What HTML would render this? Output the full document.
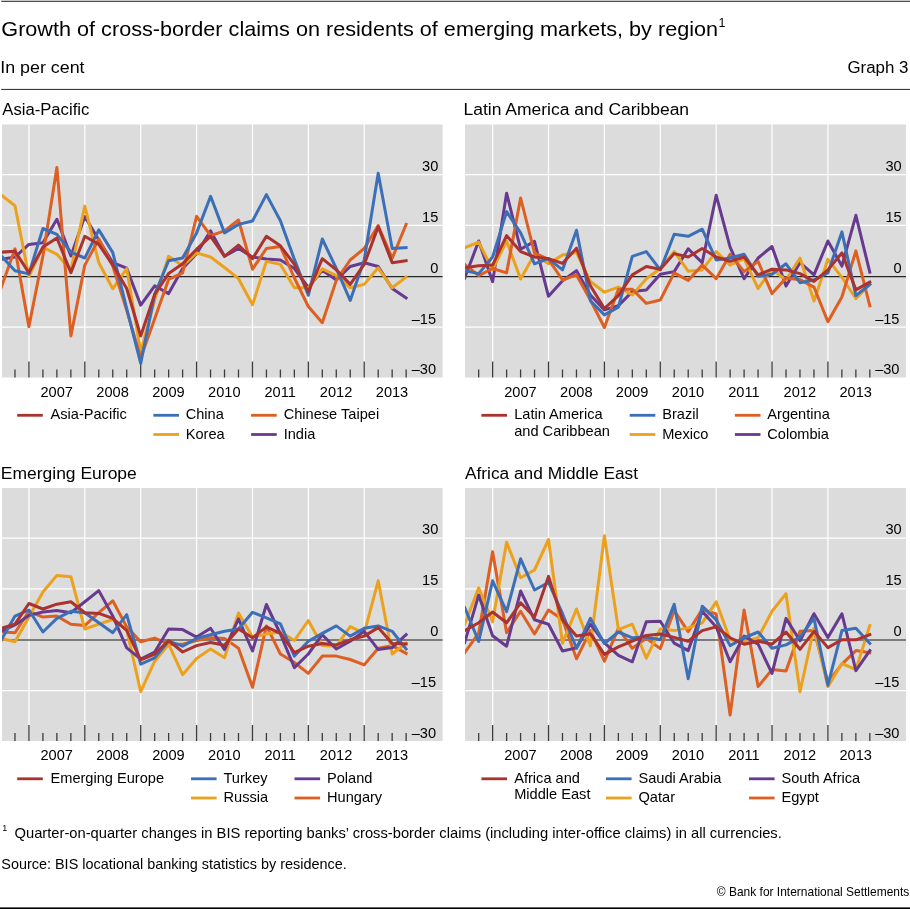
<!DOCTYPE html>
<html><head><meta charset="utf-8"><title>Graph 3</title>
<style>html,body{margin:0;padding:0;background:#fff}svg{display:block;will-change:transform}text{font-family:"Liberation Sans",sans-serif;fill:#000}</style>
</head><body>
<svg width="910" height="909" viewBox="0 0 910 909">
<rect x="0" y="0" width="910" height="909" fill="#fff"/>
<rect x="1.2" y="0" width="908.8" height="1" fill="#c8c8c8"/>
<rect x="1.2" y="1" width="908.8" height="0.9" fill="#3a3a3a"/>
<rect x="1.2" y="88.9" width="908.8" height="1.1" fill="#3a3a3a"/>
<rect x="0" y="907.4" width="910" height="1.6" fill="#000"/>
<text x="1.3" y="36.0" font-size="20.8" textLength="716.8" lengthAdjust="spacingAndGlyphs" fill="#1c1c1c">Growth of cross-border claims on residents of emerging markets, by region</text>
<text x="718.6" y="27.2" font-size="12.5" fill="#1c1c1c">1</text>
<text x="0.2" y="72.6" font-size="16" textLength="84.4" lengthAdjust="spacingAndGlyphs" fill="#1c1c1c">In per cent</text>
<text x="908.4" y="72.6" font-size="16" text-anchor="end" textLength="61.0" lengthAdjust="spacingAndGlyphs" fill="#1c1c1c">Graph 3</text>
<g>
<text x="2.3" y="115.0" font-size="16" textLength="87.0" lengthAdjust="spacingAndGlyphs" fill="#1c1c1c">Asia-Pacific</text>
<rect x="2.0" y="124.5" width="440.6" height="253.0" fill="#DCDCDC"/>
<line x1="28.94" y1="124.5" x2="28.94" y2="377.5" stroke="#fff" stroke-width="1.25"/>
<line x1="84.82" y1="124.5" x2="84.82" y2="377.5" stroke="#fff" stroke-width="1.25"/>
<line x1="140.70" y1="124.5" x2="140.70" y2="377.5" stroke="#fff" stroke-width="1.25"/>
<line x1="196.58" y1="124.5" x2="196.58" y2="377.5" stroke="#fff" stroke-width="1.25"/>
<line x1="252.46" y1="124.5" x2="252.46" y2="377.5" stroke="#fff" stroke-width="1.25"/>
<line x1="308.34" y1="124.5" x2="308.34" y2="377.5" stroke="#fff" stroke-width="1.25"/>
<line x1="364.22" y1="124.5" x2="364.22" y2="377.5" stroke="#fff" stroke-width="1.25"/>
<line x1="2.0" y1="174.60" x2="442.6" y2="174.60" stroke="#fff" stroke-width="1.25"/>
<line x1="2.0" y1="225.45" x2="442.6" y2="225.45" stroke="#fff" stroke-width="1.25"/>
<line x1="2.0" y1="327.15" x2="442.6" y2="327.15" stroke="#fff" stroke-width="1.25"/>
<line x1="2.0" y1="276.60" x2="442.6" y2="276.60" stroke="#262626" stroke-width="1.1"/>
<line x1="14.97" y1="369.5" x2="14.97" y2="377.5" stroke="#3c3c3c" stroke-width="1.3"/>
<line x1="28.94" y1="361.5" x2="28.94" y2="377.5" stroke="#3c3c3c" stroke-width="1.3"/>
<line x1="42.91" y1="369.5" x2="42.91" y2="377.5" stroke="#3c3c3c" stroke-width="1.3"/>
<line x1="56.88" y1="369.5" x2="56.88" y2="377.5" stroke="#3c3c3c" stroke-width="1.3"/>
<line x1="70.85" y1="369.5" x2="70.85" y2="377.5" stroke="#3c3c3c" stroke-width="1.3"/>
<line x1="84.82" y1="361.5" x2="84.82" y2="377.5" stroke="#3c3c3c" stroke-width="1.3"/>
<line x1="98.79" y1="369.5" x2="98.79" y2="377.5" stroke="#3c3c3c" stroke-width="1.3"/>
<line x1="112.76" y1="369.5" x2="112.76" y2="377.5" stroke="#3c3c3c" stroke-width="1.3"/>
<line x1="126.73" y1="369.5" x2="126.73" y2="377.5" stroke="#3c3c3c" stroke-width="1.3"/>
<line x1="140.70" y1="361.5" x2="140.70" y2="377.5" stroke="#3c3c3c" stroke-width="1.3"/>
<line x1="154.67" y1="369.5" x2="154.67" y2="377.5" stroke="#3c3c3c" stroke-width="1.3"/>
<line x1="168.64" y1="369.5" x2="168.64" y2="377.5" stroke="#3c3c3c" stroke-width="1.3"/>
<line x1="182.61" y1="369.5" x2="182.61" y2="377.5" stroke="#3c3c3c" stroke-width="1.3"/>
<line x1="196.58" y1="361.5" x2="196.58" y2="377.5" stroke="#3c3c3c" stroke-width="1.3"/>
<line x1="210.55" y1="369.5" x2="210.55" y2="377.5" stroke="#3c3c3c" stroke-width="1.3"/>
<line x1="224.52" y1="369.5" x2="224.52" y2="377.5" stroke="#3c3c3c" stroke-width="1.3"/>
<line x1="238.49" y1="369.5" x2="238.49" y2="377.5" stroke="#3c3c3c" stroke-width="1.3"/>
<line x1="252.46" y1="361.5" x2="252.46" y2="377.5" stroke="#3c3c3c" stroke-width="1.3"/>
<line x1="266.43" y1="369.5" x2="266.43" y2="377.5" stroke="#3c3c3c" stroke-width="1.3"/>
<line x1="280.40" y1="369.5" x2="280.40" y2="377.5" stroke="#3c3c3c" stroke-width="1.3"/>
<line x1="294.37" y1="369.5" x2="294.37" y2="377.5" stroke="#3c3c3c" stroke-width="1.3"/>
<line x1="308.34" y1="361.5" x2="308.34" y2="377.5" stroke="#3c3c3c" stroke-width="1.3"/>
<line x1="322.31" y1="369.5" x2="322.31" y2="377.5" stroke="#3c3c3c" stroke-width="1.3"/>
<line x1="336.28" y1="369.5" x2="336.28" y2="377.5" stroke="#3c3c3c" stroke-width="1.3"/>
<line x1="350.25" y1="369.5" x2="350.25" y2="377.5" stroke="#3c3c3c" stroke-width="1.3"/>
<line x1="364.22" y1="361.5" x2="364.22" y2="377.5" stroke="#3c3c3c" stroke-width="1.3"/>
<line x1="378.19" y1="369.5" x2="378.19" y2="377.5" stroke="#3c3c3c" stroke-width="1.3"/>
<line x1="392.16" y1="369.5" x2="392.16" y2="377.5" stroke="#3c3c3c" stroke-width="1.3"/>
<line x1="406.13" y1="369.5" x2="406.13" y2="377.5" stroke="#3c3c3c" stroke-width="1.3"/>
<clipPath id="cp0"><rect x="2.0" y="124.5" width="440.6" height="253.0"/></clipPath>
<g clip-path="url(#cp0)" fill="none" stroke-width="3.0" stroke-linejoin="round" stroke-linecap="square">
<polyline points="1.0,259.4 15.0,257.0 28.9,244.4 42.9,242.7 56.9,219.3 70.9,256.0 84.8,216.6 98.8,240.0 112.8,262.7 126.7,268.2 140.7,305.1 154.7,285.8 168.6,293.6 182.6,268.5 196.6,253.6 210.6,230.9 224.5,256.3 238.5,248.5 252.5,257.0 266.4,259.0 280.4,260.0 294.4,268.5 308.3,287.5 322.3,270.2 336.3,280.0 350.2,266.5 364.2,262.7 378.2,266.5 392.2,288.5 406.1,298.0" stroke="#683A8F"/>
<polyline points="1.0,194.9 15.0,205.8 28.9,276.6 42.9,247.1 56.9,254.3 70.9,269.9 84.8,206.1 98.8,262.7 112.8,288.8 126.7,268.5 140.7,351.6 154.7,300.0 168.6,256.3 182.6,265.8 196.6,252.9 210.6,257.0 224.5,267.5 238.5,278.7 252.5,304.8 266.4,261.4 280.4,264.4 294.4,287.8 308.3,287.8 322.3,268.8 336.3,275.6 350.2,287.8 364.2,284.4 378.2,267.8 392.2,287.8 406.1,277.0" stroke="#ECA11D"/>
<polyline points="1.0,288.2 15.0,248.8 28.9,326.8 42.9,256.0 56.9,167.5 70.9,336.0 84.8,265.1 98.8,239.0 112.8,266.1 126.7,310.2 140.7,357.7 154.7,318.7 168.6,279.4 182.6,272.9 196.6,216.3 210.6,235.6 224.5,230.9 238.5,220.0 252.5,269.2 266.4,248.5 280.4,246.5 294.4,278.0 308.3,306.5 322.3,322.7 336.3,280.4 350.2,260.0 364.2,248.5 378.2,225.5 392.2,258.3 406.1,224.4" stroke="#DD5F22"/>
<polyline points="1.0,255.6 15.0,270.7 28.9,273.9 42.9,228.5 56.9,234.3 70.9,252.2 84.8,258.0 98.8,229.9 112.8,252.6 126.7,308.5 140.7,363.4 154.7,294.3 168.6,260.7 182.6,258.0 196.6,232.9 210.6,196.3 224.5,232.9 238.5,224.4 252.5,221.0 266.4,194.6 280.4,220.7 294.4,259.4 308.3,295.3 322.3,239.0 336.3,268.5 350.2,300.4 364.2,260.0 378.2,173.2 392.2,248.5 406.1,247.5" stroke="#3B70B8"/>
<polyline points="1.0,252.2 15.0,251.2 28.9,272.9 42.9,247.1 56.9,238.0 70.9,272.6 84.8,236.3 98.8,244.4 112.8,265.1 126.7,288.5 140.7,336.0 154.7,294.3 168.6,273.6 182.6,263.8 196.6,249.2 210.6,236.3 224.5,256.3 238.5,245.1 252.5,258.7 266.4,236.3 280.4,245.8 294.4,264.4 308.3,291.9 322.3,258.7 336.3,269.9 350.2,284.4 364.2,264.4 378.2,226.8 392.2,262.7 406.1,260.7" stroke="#AA322F"/>
</g>
<text x="438.3" y="170.9" font-size="14.6" text-anchor="end">30</text>
<text x="438.3" y="221.8" font-size="14.6" text-anchor="end">15</text>
<text x="438.3" y="272.6" font-size="14.6" text-anchor="end">0</text>
<text x="436.1" y="323.5" font-size="14.6" text-anchor="end">–15</text>
<text x="436.1" y="374.3" font-size="14.6" text-anchor="end">–30</text>
<text x="56.7" y="396.6" font-size="14.6" text-anchor="middle">2007</text>
<text x="112.6" y="396.6" font-size="14.6" text-anchor="middle">2008</text>
<text x="168.4" y="396.6" font-size="14.6" text-anchor="middle">2009</text>
<text x="224.3" y="396.6" font-size="14.6" text-anchor="middle">2010</text>
<text x="280.2" y="396.6" font-size="14.6" text-anchor="middle">2011</text>
<text x="336.1" y="396.6" font-size="14.6" text-anchor="middle">2012</text>
<text x="392.0" y="396.6" font-size="14.6" text-anchor="middle">2013</text>
<line x1="17.2" y1="415.3" x2="42.8" y2="415.3" stroke="#AA322F" stroke-width="2.8"/>
<text x="50.5" y="419.3" font-size="14.6">Asia-Pacific</text>
<line x1="153.4" y1="415.3" x2="179.0" y2="415.3" stroke="#3B70B8" stroke-width="2.8"/>
<text x="185.7" y="419.3" font-size="14.6">China</text>
<line x1="251.1" y1="415.3" x2="276.7" y2="415.3" stroke="#DD5F22" stroke-width="2.8"/>
<text x="283.7" y="419.3" font-size="14.6">Chinese Taipei</text>
<line x1="153.4" y1="434.5" x2="179.0" y2="434.5" stroke="#ECA11D" stroke-width="2.8"/>
<text x="185.7" y="438.5" font-size="14.6">Korea</text>
<line x1="251.1" y1="434.5" x2="276.7" y2="434.5" stroke="#683A8F" stroke-width="2.8"/>
<text x="283.7" y="438.5" font-size="14.6">India</text>
</g>
<g>
<text x="463.5" y="115.0" font-size="16" textLength="225.6" lengthAdjust="spacingAndGlyphs" fill="#1c1c1c">Latin America and Caribbean</text>
<rect x="465.0" y="124.5" width="441.0" height="253.0" fill="#DCDCDC"/>
<line x1="492.64" y1="124.5" x2="492.64" y2="377.5" stroke="#fff" stroke-width="1.25"/>
<line x1="548.52" y1="124.5" x2="548.52" y2="377.5" stroke="#fff" stroke-width="1.25"/>
<line x1="604.40" y1="124.5" x2="604.40" y2="377.5" stroke="#fff" stroke-width="1.25"/>
<line x1="660.28" y1="124.5" x2="660.28" y2="377.5" stroke="#fff" stroke-width="1.25"/>
<line x1="716.16" y1="124.5" x2="716.16" y2="377.5" stroke="#fff" stroke-width="1.25"/>
<line x1="772.04" y1="124.5" x2="772.04" y2="377.5" stroke="#fff" stroke-width="1.25"/>
<line x1="827.92" y1="124.5" x2="827.92" y2="377.5" stroke="#fff" stroke-width="1.25"/>
<line x1="465.0" y1="174.60" x2="906.0" y2="174.60" stroke="#fff" stroke-width="1.25"/>
<line x1="465.0" y1="225.45" x2="906.0" y2="225.45" stroke="#fff" stroke-width="1.25"/>
<line x1="465.0" y1="327.15" x2="906.0" y2="327.15" stroke="#fff" stroke-width="1.25"/>
<line x1="465.0" y1="276.60" x2="906.0" y2="276.60" stroke="#262626" stroke-width="1.1"/>
<line x1="478.67" y1="369.5" x2="478.67" y2="377.5" stroke="#3c3c3c" stroke-width="1.3"/>
<line x1="492.64" y1="361.5" x2="492.64" y2="377.5" stroke="#3c3c3c" stroke-width="1.3"/>
<line x1="506.61" y1="369.5" x2="506.61" y2="377.5" stroke="#3c3c3c" stroke-width="1.3"/>
<line x1="520.58" y1="369.5" x2="520.58" y2="377.5" stroke="#3c3c3c" stroke-width="1.3"/>
<line x1="534.55" y1="369.5" x2="534.55" y2="377.5" stroke="#3c3c3c" stroke-width="1.3"/>
<line x1="548.52" y1="361.5" x2="548.52" y2="377.5" stroke="#3c3c3c" stroke-width="1.3"/>
<line x1="562.49" y1="369.5" x2="562.49" y2="377.5" stroke="#3c3c3c" stroke-width="1.3"/>
<line x1="576.46" y1="369.5" x2="576.46" y2="377.5" stroke="#3c3c3c" stroke-width="1.3"/>
<line x1="590.43" y1="369.5" x2="590.43" y2="377.5" stroke="#3c3c3c" stroke-width="1.3"/>
<line x1="604.40" y1="361.5" x2="604.40" y2="377.5" stroke="#3c3c3c" stroke-width="1.3"/>
<line x1="618.37" y1="369.5" x2="618.37" y2="377.5" stroke="#3c3c3c" stroke-width="1.3"/>
<line x1="632.34" y1="369.5" x2="632.34" y2="377.5" stroke="#3c3c3c" stroke-width="1.3"/>
<line x1="646.31" y1="369.5" x2="646.31" y2="377.5" stroke="#3c3c3c" stroke-width="1.3"/>
<line x1="660.28" y1="361.5" x2="660.28" y2="377.5" stroke="#3c3c3c" stroke-width="1.3"/>
<line x1="674.25" y1="369.5" x2="674.25" y2="377.5" stroke="#3c3c3c" stroke-width="1.3"/>
<line x1="688.22" y1="369.5" x2="688.22" y2="377.5" stroke="#3c3c3c" stroke-width="1.3"/>
<line x1="702.19" y1="369.5" x2="702.19" y2="377.5" stroke="#3c3c3c" stroke-width="1.3"/>
<line x1="716.16" y1="361.5" x2="716.16" y2="377.5" stroke="#3c3c3c" stroke-width="1.3"/>
<line x1="730.13" y1="369.5" x2="730.13" y2="377.5" stroke="#3c3c3c" stroke-width="1.3"/>
<line x1="744.10" y1="369.5" x2="744.10" y2="377.5" stroke="#3c3c3c" stroke-width="1.3"/>
<line x1="758.07" y1="369.5" x2="758.07" y2="377.5" stroke="#3c3c3c" stroke-width="1.3"/>
<line x1="772.04" y1="361.5" x2="772.04" y2="377.5" stroke="#3c3c3c" stroke-width="1.3"/>
<line x1="786.01" y1="369.5" x2="786.01" y2="377.5" stroke="#3c3c3c" stroke-width="1.3"/>
<line x1="799.98" y1="369.5" x2="799.98" y2="377.5" stroke="#3c3c3c" stroke-width="1.3"/>
<line x1="813.95" y1="369.5" x2="813.95" y2="377.5" stroke="#3c3c3c" stroke-width="1.3"/>
<line x1="827.92" y1="361.5" x2="827.92" y2="377.5" stroke="#3c3c3c" stroke-width="1.3"/>
<line x1="841.89" y1="369.5" x2="841.89" y2="377.5" stroke="#3c3c3c" stroke-width="1.3"/>
<line x1="855.86" y1="369.5" x2="855.86" y2="377.5" stroke="#3c3c3c" stroke-width="1.3"/>
<line x1="869.83" y1="369.5" x2="869.83" y2="377.5" stroke="#3c3c3c" stroke-width="1.3"/>
<clipPath id="cp1"><rect x="465.0" y="124.5" width="441.0" height="253.0"/></clipPath>
<g clip-path="url(#cp1)" fill="none" stroke-width="3.0" stroke-linejoin="round" stroke-linecap="square">
<polyline points="464.7,278.0 478.7,241.0 492.6,281.7 506.6,193.2 520.6,249.2 534.5,241.4 548.5,296.3 562.5,280.7 576.5,270.7 590.4,294.9 604.4,309.9 618.4,305.8 632.3,291.6 646.3,289.9 660.3,274.3 674.2,271.6 688.2,248.8 702.2,262.7 716.2,195.3 730.1,247.1 744.1,278.7 758.1,258.0 772.0,246.5 786.0,286.1 800.0,262.7 814.0,274.9 827.9,241.0 841.9,266.1 855.9,215.3 869.8,272.2" stroke="#683A8F"/>
<polyline points="464.7,247.8 478.7,242.1 492.6,269.7 506.6,241.0 520.6,279.0 534.5,254.3 548.5,263.8 562.5,254.9 576.5,252.6 590.4,281.4 604.4,292.2 618.4,287.1 632.3,294.9 646.3,278.7 660.3,268.5 674.2,251.6 688.2,271.2 702.2,269.9 716.2,251.6 730.1,265.1 744.1,258.7 758.1,288.5 772.0,269.2 786.0,280.0 800.0,258.0 814.0,301.0 827.9,259.4 841.9,277.3 855.9,298.7 869.8,284.4" stroke="#ECA11D"/>
<polyline points="464.7,264.4 478.7,275.6 492.6,268.5 506.6,272.9 520.6,198.0 534.5,252.9 548.5,259.4 562.5,280.0 576.5,274.9 590.4,300.0 604.4,327.5 618.4,289.2 632.3,289.2 646.3,303.4 660.3,300.0 674.2,272.9 688.2,280.4 702.2,265.1 716.2,278.7 730.1,254.3 744.1,271.6 758.1,261.4 772.0,293.6 786.0,278.0 800.0,279.7 814.0,287.1 827.9,321.7 841.9,297.0 855.9,250.9 869.8,305.8" stroke="#DD5F22"/>
<polyline points="464.7,270.7 478.7,273.6 492.6,257.0 506.6,211.6 520.6,232.9 534.5,263.8 548.5,258.7 562.5,269.9 576.5,230.2 590.4,300.7 604.4,314.9 618.4,307.1 632.3,256.3 646.3,251.6 660.3,269.9 674.2,234.3 688.2,236.3 702.2,229.2 716.2,260.0 730.1,258.0 744.1,254.3 758.1,276.3 772.0,274.3 786.0,263.8 800.0,282.7 814.0,280.0 827.9,272.9 841.9,231.9 855.9,295.6 869.8,284.4" stroke="#3B70B8"/>
<polyline points="464.7,267.8 478.7,265.8 492.6,265.1 506.6,235.6 520.6,251.6 534.5,257.0 548.5,258.7 562.5,263.4 576.5,248.2 590.4,285.8 604.4,308.5 618.4,295.6 632.3,274.9 646.3,266.5 660.3,269.2 674.2,253.6 688.2,257.0 702.2,248.5 716.2,257.0 730.1,261.4 744.1,257.0 758.1,274.9 772.0,269.2 786.0,269.9 800.0,273.6 814.0,281.4 827.9,269.9 841.9,252.9 855.9,289.9 869.8,282.1" stroke="#AA322F"/>
</g>
<text x="901.7" y="170.9" font-size="14.6" text-anchor="end">30</text>
<text x="901.7" y="221.8" font-size="14.6" text-anchor="end">15</text>
<text x="901.7" y="272.6" font-size="14.6" text-anchor="end">0</text>
<text x="899.5" y="323.5" font-size="14.6" text-anchor="end">–15</text>
<text x="899.5" y="374.3" font-size="14.6" text-anchor="end">–30</text>
<text x="520.4" y="396.6" font-size="14.6" text-anchor="middle">2007</text>
<text x="576.3" y="396.6" font-size="14.6" text-anchor="middle">2008</text>
<text x="632.1" y="396.6" font-size="14.6" text-anchor="middle">2009</text>
<text x="688.0" y="396.6" font-size="14.6" text-anchor="middle">2010</text>
<text x="743.9" y="396.6" font-size="14.6" text-anchor="middle">2011</text>
<text x="799.8" y="396.6" font-size="14.6" text-anchor="middle">2012</text>
<text x="855.7" y="396.6" font-size="14.6" text-anchor="middle">2013</text>
<line x1="481.4" y1="415.3" x2="507.0" y2="415.3" stroke="#AA322F" stroke-width="2.8"/>
<text x="514.2" y="419.3" font-size="14.6">Latin America</text>
<text x="514.2" y="435.7" font-size="14.6">and Caribbean</text>
<line x1="629.7" y1="415.3" x2="655.3" y2="415.3" stroke="#3B70B8" stroke-width="2.8"/>
<text x="662.2" y="419.3" font-size="14.6">Brazil</text>
<line x1="734.9" y1="415.3" x2="760.5" y2="415.3" stroke="#DD5F22" stroke-width="2.8"/>
<text x="767.3" y="419.3" font-size="14.6">Argentina</text>
<line x1="629.7" y1="434.5" x2="655.3" y2="434.5" stroke="#ECA11D" stroke-width="2.8"/>
<text x="662.2" y="438.5" font-size="14.6">Mexico</text>
<line x1="734.9" y1="434.5" x2="760.5" y2="434.5" stroke="#683A8F" stroke-width="2.8"/>
<text x="767.3" y="438.5" font-size="14.6">Colombia</text>
</g>
<g>
<text x="0.8" y="478.5" font-size="16" textLength="136.0" lengthAdjust="spacingAndGlyphs" fill="#1c1c1c">Emerging Europe</text>
<rect x="2.0" y="488.0" width="440.6" height="253.0" fill="#DCDCDC"/>
<line x1="28.94" y1="488.0" x2="28.94" y2="741.0" stroke="#fff" stroke-width="1.25"/>
<line x1="84.82" y1="488.0" x2="84.82" y2="741.0" stroke="#fff" stroke-width="1.25"/>
<line x1="140.70" y1="488.0" x2="140.70" y2="741.0" stroke="#fff" stroke-width="1.25"/>
<line x1="196.58" y1="488.0" x2="196.58" y2="741.0" stroke="#fff" stroke-width="1.25"/>
<line x1="252.46" y1="488.0" x2="252.46" y2="741.0" stroke="#fff" stroke-width="1.25"/>
<line x1="308.34" y1="488.0" x2="308.34" y2="741.0" stroke="#fff" stroke-width="1.25"/>
<line x1="364.22" y1="488.0" x2="364.22" y2="741.0" stroke="#fff" stroke-width="1.25"/>
<line x1="2.0" y1="538.10" x2="442.6" y2="538.10" stroke="#fff" stroke-width="1.25"/>
<line x1="2.0" y1="588.95" x2="442.6" y2="588.95" stroke="#fff" stroke-width="1.25"/>
<line x1="2.0" y1="690.65" x2="442.6" y2="690.65" stroke="#fff" stroke-width="1.25"/>
<line x1="2.0" y1="640.00" x2="442.6" y2="640.00" stroke="#5c5c5c" stroke-width="1.5"/>
<line x1="14.97" y1="733.0" x2="14.97" y2="741.0" stroke="#3c3c3c" stroke-width="1.3"/>
<line x1="28.94" y1="725.0" x2="28.94" y2="741.0" stroke="#3c3c3c" stroke-width="1.3"/>
<line x1="42.91" y1="733.0" x2="42.91" y2="741.0" stroke="#3c3c3c" stroke-width="1.3"/>
<line x1="56.88" y1="733.0" x2="56.88" y2="741.0" stroke="#3c3c3c" stroke-width="1.3"/>
<line x1="70.85" y1="733.0" x2="70.85" y2="741.0" stroke="#3c3c3c" stroke-width="1.3"/>
<line x1="84.82" y1="725.0" x2="84.82" y2="741.0" stroke="#3c3c3c" stroke-width="1.3"/>
<line x1="98.79" y1="733.0" x2="98.79" y2="741.0" stroke="#3c3c3c" stroke-width="1.3"/>
<line x1="112.76" y1="733.0" x2="112.76" y2="741.0" stroke="#3c3c3c" stroke-width="1.3"/>
<line x1="126.73" y1="733.0" x2="126.73" y2="741.0" stroke="#3c3c3c" stroke-width="1.3"/>
<line x1="140.70" y1="725.0" x2="140.70" y2="741.0" stroke="#3c3c3c" stroke-width="1.3"/>
<line x1="154.67" y1="733.0" x2="154.67" y2="741.0" stroke="#3c3c3c" stroke-width="1.3"/>
<line x1="168.64" y1="733.0" x2="168.64" y2="741.0" stroke="#3c3c3c" stroke-width="1.3"/>
<line x1="182.61" y1="733.0" x2="182.61" y2="741.0" stroke="#3c3c3c" stroke-width="1.3"/>
<line x1="196.58" y1="725.0" x2="196.58" y2="741.0" stroke="#3c3c3c" stroke-width="1.3"/>
<line x1="210.55" y1="733.0" x2="210.55" y2="741.0" stroke="#3c3c3c" stroke-width="1.3"/>
<line x1="224.52" y1="733.0" x2="224.52" y2="741.0" stroke="#3c3c3c" stroke-width="1.3"/>
<line x1="238.49" y1="733.0" x2="238.49" y2="741.0" stroke="#3c3c3c" stroke-width="1.3"/>
<line x1="252.46" y1="725.0" x2="252.46" y2="741.0" stroke="#3c3c3c" stroke-width="1.3"/>
<line x1="266.43" y1="733.0" x2="266.43" y2="741.0" stroke="#3c3c3c" stroke-width="1.3"/>
<line x1="280.40" y1="733.0" x2="280.40" y2="741.0" stroke="#3c3c3c" stroke-width="1.3"/>
<line x1="294.37" y1="733.0" x2="294.37" y2="741.0" stroke="#3c3c3c" stroke-width="1.3"/>
<line x1="308.34" y1="725.0" x2="308.34" y2="741.0" stroke="#3c3c3c" stroke-width="1.3"/>
<line x1="322.31" y1="733.0" x2="322.31" y2="741.0" stroke="#3c3c3c" stroke-width="1.3"/>
<line x1="336.28" y1="733.0" x2="336.28" y2="741.0" stroke="#3c3c3c" stroke-width="1.3"/>
<line x1="350.25" y1="733.0" x2="350.25" y2="741.0" stroke="#3c3c3c" stroke-width="1.3"/>
<line x1="364.22" y1="725.0" x2="364.22" y2="741.0" stroke="#3c3c3c" stroke-width="1.3"/>
<line x1="378.19" y1="733.0" x2="378.19" y2="741.0" stroke="#3c3c3c" stroke-width="1.3"/>
<line x1="392.16" y1="733.0" x2="392.16" y2="741.0" stroke="#3c3c3c" stroke-width="1.3"/>
<line x1="406.13" y1="733.0" x2="406.13" y2="741.0" stroke="#3c3c3c" stroke-width="1.3"/>
<clipPath id="cp2"><rect x="2.0" y="488.0" width="440.6" height="253.0"/></clipPath>
<g clip-path="url(#cp2)" fill="none" stroke-width="3.0" stroke-linejoin="round" stroke-linecap="square">
<polyline points="1.0,632.0 15.0,632.7 28.9,611.3 42.9,617.1 56.9,616.1 70.9,624.2 84.8,625.6 98.8,612.7 112.8,600.8 126.7,626.9 140.7,641.8 154.7,638.1 168.6,644.2 182.6,644.2 196.6,640.5 210.6,637.8 224.5,638.4 238.5,648.3 252.5,687.3 266.4,625.9 280.4,654.0 294.4,662.5 308.3,673.4 322.3,656.1 336.3,656.1 350.2,659.5 364.2,664.9 378.2,648.3 392.2,645.6 406.1,653.4" stroke="#DD5F22"/>
<polyline points="1.0,638.4 15.0,641.8 28.9,617.1 42.9,592.0 56.9,575.4 70.9,576.7 84.8,629.0 98.8,624.2 112.8,619.5 126.7,630.0 140.7,691.7 154.7,661.2 168.6,644.2 182.6,674.7 196.6,658.4 210.6,649.0 224.5,657.8 238.5,613.0 252.5,637.1 266.4,634.0 280.4,632.0 294.4,640.5 308.3,620.5 322.3,645.6 336.3,646.2 350.2,626.6 364.2,633.4 378.2,580.8 392.2,654.0 406.1,643.2" stroke="#ECA11D"/>
<polyline points="1.0,631.3 15.0,624.9 28.9,615.4 42.9,612.0 56.9,610.6 70.9,612.7 84.8,601.8 98.8,590.6 112.8,616.1 126.7,647.9 140.7,659.1 154.7,652.0 168.6,629.0 182.6,629.6 196.6,637.1 210.6,628.3 224.5,649.6 238.5,618.8 252.5,651.0 266.4,604.5 280.4,634.0 294.4,667.6 308.3,654.0 322.3,634.7 336.3,649.0 350.2,641.2 364.2,631.3 378.2,649.6 392.2,647.6 406.1,634.7" stroke="#683A8F"/>
<polyline points="1.0,640.5 15.0,616.1 28.9,610.0 42.9,632.0 56.9,618.4 70.9,611.3 84.8,612.7 98.8,622.8 112.8,632.7 126.7,614.7 140.7,664.2 154.7,657.8 168.6,641.2 182.6,646.2 196.6,638.4 210.6,634.7 224.5,631.3 238.5,629.0 252.5,612.3 266.4,617.8 280.4,623.9 294.4,656.1 308.3,641.2 322.3,633.4 336.3,625.9 350.2,636.1 364.2,628.3 378.2,625.9 392.2,631.3 406.1,649.0" stroke="#3B70B8"/>
<polyline points="1.0,628.3 15.0,624.2 28.9,603.5 42.9,609.0 56.9,604.2 70.9,601.8 84.8,612.7 98.8,613.4 112.8,618.4 126.7,630.3 140.7,659.8 154.7,654.0 168.6,640.5 182.6,652.0 196.6,645.6 210.6,642.5 224.5,645.2 238.5,629.0 252.5,637.8 266.4,626.9 280.4,633.4 294.4,652.7 308.3,646.2 322.3,643.5 336.3,644.9 350.2,639.8 364.2,636.1 378.2,627.6 392.2,643.5 406.1,643.9" stroke="#AA322F"/>
</g>
<text x="438.3" y="534.2" font-size="14.6" text-anchor="end">30</text>
<text x="438.3" y="585.0" font-size="14.6" text-anchor="end">15</text>
<text x="438.3" y="635.9" font-size="14.6" text-anchor="end">0</text>
<text x="436.1" y="686.8" font-size="14.6" text-anchor="end">–15</text>
<text x="436.1" y="737.6" font-size="14.6" text-anchor="end">–30</text>
<text x="56.7" y="760.1" font-size="14.6" text-anchor="middle">2007</text>
<text x="112.6" y="760.1" font-size="14.6" text-anchor="middle">2008</text>
<text x="168.4" y="760.1" font-size="14.6" text-anchor="middle">2009</text>
<text x="224.3" y="760.1" font-size="14.6" text-anchor="middle">2010</text>
<text x="280.2" y="760.1" font-size="14.6" text-anchor="middle">2011</text>
<text x="336.1" y="760.1" font-size="14.6" text-anchor="middle">2012</text>
<text x="392.0" y="760.1" font-size="14.6" text-anchor="middle">2013</text>
<line x1="17.2" y1="778.8" x2="42.8" y2="778.8" stroke="#AA322F" stroke-width="2.8"/>
<text x="50.5" y="782.8" font-size="14.6">Emerging Europe</text>
<line x1="191.0" y1="778.8" x2="216.6" y2="778.8" stroke="#3B70B8" stroke-width="2.8"/>
<text x="223.5" y="782.8" font-size="14.6">Turkey</text>
<line x1="294.5" y1="778.8" x2="320.1" y2="778.8" stroke="#683A8F" stroke-width="2.8"/>
<text x="327.0" y="782.8" font-size="14.6">Poland</text>
<line x1="191.0" y1="798.0" x2="216.6" y2="798.0" stroke="#ECA11D" stroke-width="2.8"/>
<text x="223.5" y="802.0" font-size="14.6">Russia</text>
<line x1="294.5" y1="798.0" x2="320.1" y2="798.0" stroke="#DD5F22" stroke-width="2.8"/>
<text x="327.0" y="802.0" font-size="14.6">Hungary</text>
</g>
<g>
<text x="465.0" y="478.5" font-size="16" textLength="173.0" lengthAdjust="spacingAndGlyphs" fill="#1c1c1c">Africa and Middle East</text>
<rect x="465.0" y="488.0" width="441.0" height="253.0" fill="#DCDCDC"/>
<line x1="492.64" y1="488.0" x2="492.64" y2="741.0" stroke="#fff" stroke-width="1.25"/>
<line x1="548.52" y1="488.0" x2="548.52" y2="741.0" stroke="#fff" stroke-width="1.25"/>
<line x1="604.40" y1="488.0" x2="604.40" y2="741.0" stroke="#fff" stroke-width="1.25"/>
<line x1="660.28" y1="488.0" x2="660.28" y2="741.0" stroke="#fff" stroke-width="1.25"/>
<line x1="716.16" y1="488.0" x2="716.16" y2="741.0" stroke="#fff" stroke-width="1.25"/>
<line x1="772.04" y1="488.0" x2="772.04" y2="741.0" stroke="#fff" stroke-width="1.25"/>
<line x1="827.92" y1="488.0" x2="827.92" y2="741.0" stroke="#fff" stroke-width="1.25"/>
<line x1="465.0" y1="538.10" x2="906.0" y2="538.10" stroke="#fff" stroke-width="1.25"/>
<line x1="465.0" y1="588.95" x2="906.0" y2="588.95" stroke="#fff" stroke-width="1.25"/>
<line x1="465.0" y1="690.65" x2="906.0" y2="690.65" stroke="#fff" stroke-width="1.25"/>
<line x1="465.0" y1="640.00" x2="906.0" y2="640.00" stroke="#5c5c5c" stroke-width="1.5"/>
<line x1="478.67" y1="733.0" x2="478.67" y2="741.0" stroke="#3c3c3c" stroke-width="1.3"/>
<line x1="492.64" y1="725.0" x2="492.64" y2="741.0" stroke="#3c3c3c" stroke-width="1.3"/>
<line x1="506.61" y1="733.0" x2="506.61" y2="741.0" stroke="#3c3c3c" stroke-width="1.3"/>
<line x1="520.58" y1="733.0" x2="520.58" y2="741.0" stroke="#3c3c3c" stroke-width="1.3"/>
<line x1="534.55" y1="733.0" x2="534.55" y2="741.0" stroke="#3c3c3c" stroke-width="1.3"/>
<line x1="548.52" y1="725.0" x2="548.52" y2="741.0" stroke="#3c3c3c" stroke-width="1.3"/>
<line x1="562.49" y1="733.0" x2="562.49" y2="741.0" stroke="#3c3c3c" stroke-width="1.3"/>
<line x1="576.46" y1="733.0" x2="576.46" y2="741.0" stroke="#3c3c3c" stroke-width="1.3"/>
<line x1="590.43" y1="733.0" x2="590.43" y2="741.0" stroke="#3c3c3c" stroke-width="1.3"/>
<line x1="604.40" y1="725.0" x2="604.40" y2="741.0" stroke="#3c3c3c" stroke-width="1.3"/>
<line x1="618.37" y1="733.0" x2="618.37" y2="741.0" stroke="#3c3c3c" stroke-width="1.3"/>
<line x1="632.34" y1="733.0" x2="632.34" y2="741.0" stroke="#3c3c3c" stroke-width="1.3"/>
<line x1="646.31" y1="733.0" x2="646.31" y2="741.0" stroke="#3c3c3c" stroke-width="1.3"/>
<line x1="660.28" y1="725.0" x2="660.28" y2="741.0" stroke="#3c3c3c" stroke-width="1.3"/>
<line x1="674.25" y1="733.0" x2="674.25" y2="741.0" stroke="#3c3c3c" stroke-width="1.3"/>
<line x1="688.22" y1="733.0" x2="688.22" y2="741.0" stroke="#3c3c3c" stroke-width="1.3"/>
<line x1="702.19" y1="733.0" x2="702.19" y2="741.0" stroke="#3c3c3c" stroke-width="1.3"/>
<line x1="716.16" y1="725.0" x2="716.16" y2="741.0" stroke="#3c3c3c" stroke-width="1.3"/>
<line x1="730.13" y1="733.0" x2="730.13" y2="741.0" stroke="#3c3c3c" stroke-width="1.3"/>
<line x1="744.10" y1="733.0" x2="744.10" y2="741.0" stroke="#3c3c3c" stroke-width="1.3"/>
<line x1="758.07" y1="733.0" x2="758.07" y2="741.0" stroke="#3c3c3c" stroke-width="1.3"/>
<line x1="772.04" y1="725.0" x2="772.04" y2="741.0" stroke="#3c3c3c" stroke-width="1.3"/>
<line x1="786.01" y1="733.0" x2="786.01" y2="741.0" stroke="#3c3c3c" stroke-width="1.3"/>
<line x1="799.98" y1="733.0" x2="799.98" y2="741.0" stroke="#3c3c3c" stroke-width="1.3"/>
<line x1="813.95" y1="733.0" x2="813.95" y2="741.0" stroke="#3c3c3c" stroke-width="1.3"/>
<line x1="827.92" y1="725.0" x2="827.92" y2="741.0" stroke="#3c3c3c" stroke-width="1.3"/>
<line x1="841.89" y1="733.0" x2="841.89" y2="741.0" stroke="#3c3c3c" stroke-width="1.3"/>
<line x1="855.86" y1="733.0" x2="855.86" y2="741.0" stroke="#3c3c3c" stroke-width="1.3"/>
<line x1="869.83" y1="733.0" x2="869.83" y2="741.0" stroke="#3c3c3c" stroke-width="1.3"/>
<clipPath id="cp3"><rect x="465.0" y="488.0" width="441.0" height="253.0"/></clipPath>
<g clip-path="url(#cp3)" fill="none" stroke-width="3.0" stroke-linejoin="round" stroke-linecap="square">
<polyline points="464.7,652.7 478.7,633.0 492.6,551.7 506.6,632.7 520.6,611.3 534.5,634.0 548.5,610.0 562.5,619.5 576.5,658.8 590.4,630.6 604.4,661.2 618.4,628.3 632.3,648.3 646.3,638.4 660.3,648.6 674.2,610.6 688.2,631.7 702.2,609.3 716.2,614.0 730.1,715.1 744.1,610.0 758.1,686.6 772.0,669.6 786.0,671.0 800.0,631.3 814.0,630.6 827.9,682.2 841.9,664.2 855.9,650.6 869.8,652.7" stroke="#DD5F22"/>
<polyline points="464.7,624.2 478.7,587.9 492.6,621.8 506.6,542.2 520.6,577.8 534.5,570.0 548.5,539.5 562.5,643.2 576.5,609.0 590.4,645.9 604.4,535.7 618.4,629.6 632.3,624.2 646.3,658.1 660.3,629.0 674.2,630.6 688.2,627.9 702.2,622.8 716.2,601.8 730.1,639.8 744.1,641.8 758.1,637.8 772.0,611.3 786.0,593.7 800.0,691.7 814.0,627.9 827.9,686.6 841.9,663.5 855.9,669.6 869.8,625.6" stroke="#ECA11D"/>
<polyline points="464.7,642.5 478.7,595.1 492.6,635.7 506.6,646.2 520.6,591.0 534.5,619.8 548.5,624.2 562.5,651.0 576.5,647.9 590.4,624.2 604.4,642.9 618.4,655.4 632.3,661.8 646.3,621.8 660.3,621.2 674.2,643.2 688.2,650.6 702.2,611.3 716.2,626.9 730.1,661.8 744.1,636.1 758.1,644.2 772.0,673.4 786.0,618.4 800.0,640.8 814.0,613.7 827.9,637.4 841.9,613.7 855.9,670.6 869.8,650.6" stroke="#683A8F"/>
<polyline points="464.7,607.6 478.7,641.5 492.6,580.8 506.6,611.7 520.6,558.8 534.5,590.0 548.5,582.5 562.5,613.7 576.5,648.3 590.4,618.4 604.4,643.5 618.4,632.0 632.3,637.8 646.3,637.1 660.3,639.8 674.2,604.2 688.2,678.8 702.2,606.2 716.2,619.8 730.1,645.6 744.1,637.8 758.1,632.0 772.0,648.3 786.0,644.9 800.0,637.1 814.0,618.4 827.9,685.2 841.9,630.6 855.9,628.3 869.8,643.5" stroke="#3B70B8"/>
<polyline points="464.7,630.6 478.7,622.8 492.6,612.0 506.6,622.8 520.6,602.8 534.5,617.1 548.5,576.4 562.5,620.1 576.5,636.1 590.4,633.7 604.4,654.4 618.4,646.9 632.3,641.2 646.3,635.4 660.3,634.0 674.2,637.4 688.2,641.2 702.2,630.6 716.2,626.9 730.1,637.8 744.1,644.2 758.1,641.2 772.0,644.2 786.0,632.0 800.0,649.3 814.0,631.3 827.9,647.6 841.9,639.8 855.9,639.8 869.8,634.7" stroke="#AA322F"/>
</g>
<text x="901.7" y="534.2" font-size="14.6" text-anchor="end">30</text>
<text x="901.7" y="585.0" font-size="14.6" text-anchor="end">15</text>
<text x="901.7" y="635.9" font-size="14.6" text-anchor="end">0</text>
<text x="899.5" y="686.8" font-size="14.6" text-anchor="end">–15</text>
<text x="899.5" y="737.6" font-size="14.6" text-anchor="end">–30</text>
<text x="520.4" y="760.1" font-size="14.6" text-anchor="middle">2007</text>
<text x="576.3" y="760.1" font-size="14.6" text-anchor="middle">2008</text>
<text x="632.1" y="760.1" font-size="14.6" text-anchor="middle">2009</text>
<text x="688.0" y="760.1" font-size="14.6" text-anchor="middle">2010</text>
<text x="743.9" y="760.1" font-size="14.6" text-anchor="middle">2011</text>
<text x="799.8" y="760.1" font-size="14.6" text-anchor="middle">2012</text>
<text x="855.7" y="760.1" font-size="14.6" text-anchor="middle">2013</text>
<line x1="481.4" y1="778.8" x2="507.0" y2="778.8" stroke="#AA322F" stroke-width="2.8"/>
<text x="514.2" y="782.8" font-size="14.6">Africa and</text>
<text x="514.2" y="799.2" font-size="14.6">Middle East</text>
<line x1="606.0" y1="778.8" x2="631.6" y2="778.8" stroke="#3B70B8" stroke-width="2.8"/>
<text x="638.5" y="782.8" font-size="14.6">Saudi Arabia</text>
<line x1="749.0" y1="778.8" x2="774.6" y2="778.8" stroke="#683A8F" stroke-width="2.8"/>
<text x="781.5" y="782.8" font-size="14.6">South Africa</text>
<line x1="606.0" y1="798.0" x2="631.6" y2="798.0" stroke="#ECA11D" stroke-width="2.8"/>
<text x="638.5" y="802.0" font-size="14.6">Qatar</text>
<line x1="749.0" y1="798.0" x2="774.6" y2="798.0" stroke="#DD5F22" stroke-width="2.8"/>
<text x="781.5" y="802.0" font-size="14.6">Egypt</text>
</g>
<text x="2.2" y="831.0" font-size="9" fill="#1c1c1c">1</text>
<text x="14.5" y="837.8" font-size="14.6" textLength="767.3" lengthAdjust="spacingAndGlyphs" fill="#1c1c1c">Quarter-on-quarter changes in BIS reporting banks’ cross-border claims (including inter-office claims) in all currencies.</text>
<text x="1.3" y="869.0" font-size="14.6" textLength="345.5" lengthAdjust="spacingAndGlyphs" fill="#1c1c1c">Source: BIS locational banking statistics by residence.</text>
<text x="909.3" y="895.8" font-size="12.6" text-anchor="end" textLength="192.5" lengthAdjust="spacingAndGlyphs" fill="#1c1c1c">© Bank for International Settlements</text>
</svg></body></html>
